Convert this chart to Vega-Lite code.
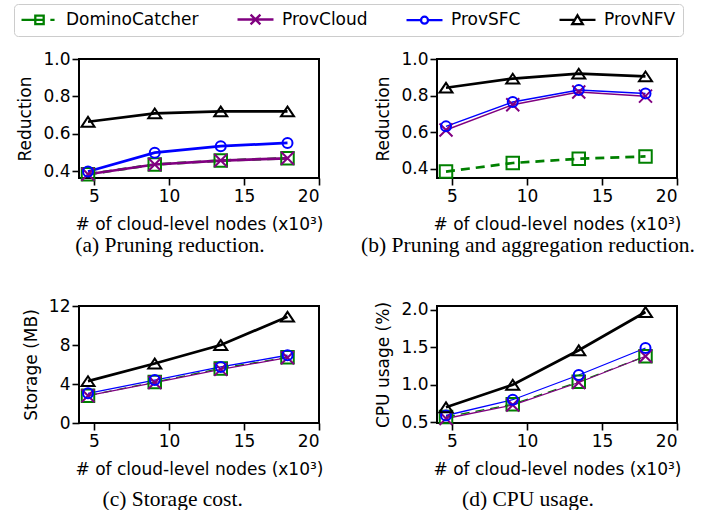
{
  "$schema": "https://vega.github.io/schema/vega-lite/v6.json",
  "padding": {"left": 13, "top": 3, "right": 5, "bottom": 5},
  "background": "white",
  "datasets": {
    "perf": [
      {"panel": "a", "series": "DominoCatcher", "nodes": 4.6, "value": 0.385},
      {"panel": "a", "series": "DominoCatcher", "nodes": 9.05, "value": 0.437},
      {"panel": "a", "series": "DominoCatcher", "nodes": 13.45, "value": 0.458},
      {"panel": "a", "series": "DominoCatcher", "nodes": 17.9, "value": 0.47},
      {"panel": "a", "series": "ProvCloud", "nodes": 4.6, "value": 0.385},
      {"panel": "a", "series": "ProvCloud", "nodes": 9.05, "value": 0.437},
      {"panel": "a", "series": "ProvCloud", "nodes": 13.45, "value": 0.458},
      {"panel": "a", "series": "ProvCloud", "nodes": 17.9, "value": 0.47},
      {"panel": "a", "series": "ProvSFC", "nodes": 4.6, "value": 0.4},
      {"panel": "a", "series": "ProvSFC", "nodes": 9.05, "value": 0.5},
      {"panel": "a", "series": "ProvSFC", "nodes": 13.45, "value": 0.535},
      {"panel": "a", "series": "ProvSFC", "nodes": 17.9, "value": 0.552},
      {"panel": "a", "series": "ProvNFV", "nodes": 4.6, "value": 0.665},
      {"panel": "a", "series": "ProvNFV", "nodes": 9.05, "value": 0.71},
      {"panel": "a", "series": "ProvNFV", "nodes": 13.45, "value": 0.72},
      {"panel": "a", "series": "ProvNFV", "nodes": 17.9, "value": 0.72},
      {"panel": "b", "series": "DominoCatcher", "nodes": 4.6, "value": 0.385},
      {"panel": "b", "series": "DominoCatcher", "nodes": 9.05, "value": 0.432},
      {"panel": "b", "series": "DominoCatcher", "nodes": 13.45, "value": 0.455},
      {"panel": "b", "series": "DominoCatcher", "nodes": 17.9, "value": 0.468},
      {"panel": "b", "series": "ProvCloud", "nodes": 4.6, "value": 0.612},
      {"panel": "b", "series": "ProvCloud", "nodes": 9.05, "value": 0.75},
      {"panel": "b", "series": "ProvCloud", "nodes": 13.45, "value": 0.82},
      {"panel": "b", "series": "ProvCloud", "nodes": 17.9, "value": 0.797},
      {"panel": "b", "series": "ProvSFC", "nodes": 4.6, "value": 0.632},
      {"panel": "b", "series": "ProvSFC", "nodes": 9.05, "value": 0.765},
      {"panel": "b", "series": "ProvSFC", "nodes": 13.45, "value": 0.83},
      {"panel": "b", "series": "ProvSFC", "nodes": 17.9, "value": 0.812},
      {"panel": "b", "series": "ProvNFV", "nodes": 4.6, "value": 0.843},
      {"panel": "b", "series": "ProvNFV", "nodes": 9.05, "value": 0.893},
      {"panel": "b", "series": "ProvNFV", "nodes": 13.45, "value": 0.92},
      {"panel": "b", "series": "ProvNFV", "nodes": 17.9, "value": 0.905},
      {"panel": "c", "series": "DominoCatcher", "nodes": 4.6, "value": 2.8},
      {"panel": "c", "series": "DominoCatcher", "nodes": 9.05, "value": 4.2},
      {"panel": "c", "series": "DominoCatcher", "nodes": 13.45, "value": 5.6},
      {"panel": "c", "series": "DominoCatcher", "nodes": 17.9, "value": 6.75},
      {"panel": "c", "series": "ProvCloud", "nodes": 4.6, "value": 2.8},
      {"panel": "c", "series": "ProvCloud", "nodes": 9.05, "value": 4.15},
      {"panel": "c", "series": "ProvCloud", "nodes": 13.45, "value": 5.5},
      {"panel": "c", "series": "ProvCloud", "nodes": 17.9, "value": 6.7},
      {"panel": "c", "series": "ProvSFC", "nodes": 4.6, "value": 3.05},
      {"panel": "c", "series": "ProvSFC", "nodes": 9.05, "value": 4.4},
      {"panel": "c", "series": "ProvSFC", "nodes": 13.45, "value": 5.75},
      {"panel": "c", "series": "ProvSFC", "nodes": 17.9, "value": 6.95},
      {"panel": "c", "series": "ProvNFV", "nodes": 4.6, "value": 4.3},
      {"panel": "c", "series": "ProvNFV", "nodes": 9.05, "value": 6.1},
      {"panel": "c", "series": "ProvNFV", "nodes": 13.45, "value": 8.0},
      {"panel": "c", "series": "ProvNFV", "nodes": 17.9, "value": 10.9},
      {"panel": "d", "series": "DominoCatcher", "nodes": 4.6, "value": 0.57},
      {"panel": "d", "series": "DominoCatcher", "nodes": 9.05, "value": 0.74},
      {"panel": "d", "series": "DominoCatcher", "nodes": 13.45, "value": 1.04},
      {"panel": "d", "series": "DominoCatcher", "nodes": 17.9, "value": 1.38},
      {"panel": "d", "series": "ProvCloud", "nodes": 4.6, "value": 0.55},
      {"panel": "d", "series": "ProvCloud", "nodes": 9.05, "value": 0.73},
      {"panel": "d", "series": "ProvCloud", "nodes": 13.45, "value": 1.03},
      {"panel": "d", "series": "ProvCloud", "nodes": 17.9, "value": 1.38},
      {"panel": "d", "series": "ProvSFC", "nodes": 4.6, "value": 0.59},
      {"panel": "d", "series": "ProvSFC", "nodes": 9.05, "value": 0.8},
      {"panel": "d", "series": "ProvSFC", "nodes": 13.45, "value": 1.13},
      {"panel": "d", "series": "ProvSFC", "nodes": 17.9, "value": 1.49},
      {"panel": "d", "series": "ProvNFV", "nodes": 4.6, "value": 0.7},
      {"panel": "d", "series": "ProvNFV", "nodes": 9.05, "value": 1.0},
      {"panel": "d", "series": "ProvNFV", "nodes": 13.45, "value": 1.46},
      {"panel": "d", "series": "ProvNFV", "nodes": 17.9, "value": 1.97}
    ]
  },
  "columns": 2,
  "spacing": {"row": 38, "column": 36},
  "resolve": {
    "scale": {"x": "independent", "y": "independent", "color": "shared", "shape": "shared"},
    "legend": {"color": "shared", "shape": "shared"}
  },
  "concat": [
    {
      "width": 240, "height": 119,
      "data": {"name": "perf"},
      "transform": [{"filter": "datum.panel === 'a'"}],
      "title": {"text": "(a) Pruning reduction.", "orient": "bottom", "anchor": "middle", "frame": "bounds", "offset": 3},
      "encoding": {
        "x": {"field": "nodes", "type": "quantitative", "scale": {"domain": [4, 20], "nice": false, "zero": false}, "axis": {"values": [5, 10, 15, 20], "title": "# of cloud-level nodes (x10³)"}},
        "y": {"field": "value", "type": "quantitative", "scale": {"domain": [0.365, 1.0], "nice": false, "zero": false}, "axis": {"values": [0.4, 0.6, 0.8, 1.0], "format": ".1f", "title": "Reduction"}},
        "color": {"field": "series", "type": "nominal", "scale": {"domain": ["DominoCatcher", "ProvCloud", "ProvSFC", "ProvNFV"], "range": ["#008000", "#800080", "#0000ff", "#000000"]}, "legend": {"orient": "none", "legendX": -65, "legendY": -55, "title": null}}
      },
      "layer": [
        {"transform": [{"filter": "datum.series === 'DominoCatcher'"}], "mark": {"type": "line", "strokeDash": [9, 6], "strokeWidth": 2.7}},
        {"transform": [{"filter": "datum.series === 'ProvCloud' || datum.series === 'ProvSFC'"}], "mark": {"type": "line", "strokeWidth": 2.7}},
        {"transform": [{"filter": "datum.series === 'ProvNFV'"}], "mark": {"type": "line", "strokeWidth": 2.7}},
        {"transform": [{"filter": "datum.series === 'DominoCatcher'"}], "mark": {"type": "point", "shape": "square", "size": 156, "filled": false, "strokeWidth": 2, "opacity": 1}},
        {"transform": [{"filter": "datum.series === 'ProvCloud'"}], "mark": {"type": "point", "shape": "M-1,-1L1,1M-1,1L1,-1", "size": 169, "filled": false, "strokeWidth": 2, "opacity": 1}},
        {"transform": [{"filter": "datum.series === 'ProvSFC'"}], "mark": {"type": "point", "shape": "circle", "size": 100, "filled": false, "strokeWidth": 2, "opacity": 1}},
        {"transform": [{"filter": "datum.series === 'ProvNFV'"}], "mark": {"type": "point", "shape": "M0,-0.75L1,0.75L-1,0.75Z", "size": 169, "filled": false, "strokeWidth": 2, "opacity": 1}},
        {"mark": {"type": "point", "size": 0, "filled": false, "strokeWidth": 2.3, "opacity": 1}, "encoding": {
          "shape": {"field": "series", "type": "nominal", "scale": {"domain": ["DominoCatcher", "ProvCloud", "ProvSFC", "ProvNFV"], "range": ["M-2.57,0H-0.6M-0.6,-0.6H0.6V0.6H-0.6ZM-0.6,0H0.6M1.55,0H2.15", "M-2.57,0H2.57M-0.7,-0.7L0.7,0.7M-0.7,0.7L0.7,-0.7", "M-2.57,0H-0.5M0.5,0H2.57M-0.5,0A0.5,0.5,0,1,0,0.5,0A0.5,0.5,0,1,0,-0.5,0", "M-2.57,0H-0.36M0.36,0H2.57M0,-0.65L0.75,0.6L-0.75,0.6Z"]}, "legend": {"orient": "none", "legendX": -65, "legendY": -55, "title": null}}
        }}
      ]
    },
    {
      "width": 240, "height": 119,
      "data": {"name": "perf"},
      "transform": [{"filter": "datum.panel === 'b'"}],
      "title": {"text": "(b) Pruning and aggregation reduction.", "orient": "bottom", "anchor": "middle", "frame": "bounds", "offset": 3},
      "encoding": {
        "x": {"field": "nodes", "type": "quantitative", "scale": {"domain": [4, 20], "nice": false, "zero": false}, "axis": {"values": [5, 10, 15, 20], "title": "# of cloud-level nodes (x10³)"}},
        "y": {"field": "value", "type": "quantitative", "scale": {"domain": [0.35, 1.0], "nice": false, "zero": false}, "axis": {"values": [0.4, 0.6, 0.8, 1.0], "format": ".1f", "title": "Reduction"}},
        "color": {"field": "series", "type": "nominal", "scale": {"domain": ["DominoCatcher", "ProvCloud", "ProvSFC", "ProvNFV"], "range": ["#008000", "#800080", "#0000ff", "#000000"]}, "legend": {"orient": "none", "legendX": -65, "legendY": -55, "title": null}}
      },
      "layer": [
        {"transform": [{"filter": "datum.series === 'DominoCatcher'"}], "mark": {"type": "line", "strokeDash": [9, 6], "strokeWidth": 2.7}},
        {"transform": [{"filter": "datum.series === 'ProvCloud' || datum.series === 'ProvSFC'"}], "mark": {"type": "line", "strokeWidth": 1.5}},
        {"transform": [{"filter": "datum.series === 'ProvNFV'"}], "mark": {"type": "line", "strokeWidth": 2.7}},
        {"transform": [{"filter": "datum.series === 'DominoCatcher'"}], "mark": {"type": "point", "shape": "square", "size": 156, "filled": false, "strokeWidth": 2, "opacity": 1}},
        {"transform": [{"filter": "datum.series === 'ProvCloud'"}], "mark": {"type": "point", "shape": "M-1,-1L1,1M-1,1L1,-1", "size": 169, "filled": false, "strokeWidth": 2, "opacity": 1}},
        {"transform": [{"filter": "datum.series === 'ProvSFC'"}], "mark": {"type": "point", "shape": "circle", "size": 100, "filled": false, "strokeWidth": 2, "opacity": 1}},
        {"transform": [{"filter": "datum.series === 'ProvNFV'"}], "mark": {"type": "point", "shape": "M0,-0.75L1,0.75L-1,0.75Z", "size": 169, "filled": false, "strokeWidth": 2, "opacity": 1}},
        {"mark": {"type": "point", "size": 0, "filled": false, "strokeWidth": 2.3, "opacity": 1}, "encoding": {
          "shape": {"field": "series", "type": "nominal", "scale": {"domain": ["DominoCatcher", "ProvCloud", "ProvSFC", "ProvNFV"], "range": ["M-2.57,0H-0.6M-0.6,-0.6H0.6V0.6H-0.6ZM-0.6,0H0.6M1.55,0H2.15", "M-2.57,0H2.57M-0.7,-0.7L0.7,0.7M-0.7,0.7L0.7,-0.7", "M-2.57,0H-0.5M0.5,0H2.57M-0.5,0A0.5,0.5,0,1,0,0.5,0A0.5,0.5,0,1,0,-0.5,0", "M-2.57,0H-0.36M0.36,0H2.57M0,-0.65L0.75,0.6L-0.75,0.6Z"]}, "legend": {"orient": "none", "legendX": -65, "legendY": -55, "title": null}}
        }}
      ]
    },
    {
      "width": 240, "height": 117,
      "data": {"name": "perf"},
      "transform": [{"filter": "datum.panel === 'c'"}],
      "title": {"text": "(c) Storage cost.", "orient": "bottom", "anchor": "middle", "frame": "bounds", "offset": 12},
      "encoding": {
        "x": {"field": "nodes", "type": "quantitative", "scale": {"domain": [4, 20], "nice": false, "zero": false}, "axis": {"values": [5, 10, 15, 20], "title": "# of cloud-level nodes (x10³)"}},
        "y": {"field": "value", "type": "quantitative", "scale": {"domain": [0, 12], "nice": false, "zero": false}, "axis": {"values": [0, 4, 8, 12], "title": "Storage (MB)"}},
        "color": {"field": "series", "type": "nominal", "scale": {"domain": ["DominoCatcher", "ProvCloud", "ProvSFC", "ProvNFV"], "range": ["#008000", "#800080", "#0000ff", "#000000"]}, "legend": {"orient": "none", "legendX": -65, "legendY": -55, "title": null}}
      },
      "layer": [
        {"transform": [{"filter": "datum.series === 'DominoCatcher'"}], "mark": {"type": "line", "strokeDash": [9, 6], "strokeWidth": 1.3}},
        {"transform": [{"filter": "datum.series === 'ProvCloud' || datum.series === 'ProvSFC'"}], "mark": {"type": "line", "strokeWidth": 1.3}},
        {"transform": [{"filter": "datum.series === 'ProvNFV'"}], "mark": {"type": "line", "strokeWidth": 2.7}},
        {"transform": [{"filter": "datum.series === 'DominoCatcher'"}], "mark": {"type": "point", "shape": "square", "size": 156, "filled": false, "strokeWidth": 2, "opacity": 1}},
        {"transform": [{"filter": "datum.series === 'ProvCloud'"}], "mark": {"type": "point", "shape": "M-1,-1L1,1M-1,1L1,-1", "size": 169, "filled": false, "strokeWidth": 2, "opacity": 1}},
        {"transform": [{"filter": "datum.series === 'ProvSFC'"}], "mark": {"type": "point", "shape": "circle", "size": 100, "filled": false, "strokeWidth": 2, "opacity": 1}},
        {"transform": [{"filter": "datum.series === 'ProvNFV'"}], "mark": {"type": "point", "shape": "M0,-0.75L1,0.75L-1,0.75Z", "size": 169, "filled": false, "strokeWidth": 2, "opacity": 1}},
        {"mark": {"type": "point", "size": 0, "filled": false, "strokeWidth": 2.3, "opacity": 1}, "encoding": {
          "shape": {"field": "series", "type": "nominal", "scale": {"domain": ["DominoCatcher", "ProvCloud", "ProvSFC", "ProvNFV"], "range": ["M-2.57,0H-0.6M-0.6,-0.6H0.6V0.6H-0.6ZM-0.6,0H0.6M1.55,0H2.15", "M-2.57,0H2.57M-0.7,-0.7L0.7,0.7M-0.7,0.7L0.7,-0.7", "M-2.57,0H-0.5M0.5,0H2.57M-0.5,0A0.5,0.5,0,1,0,0.5,0A0.5,0.5,0,1,0,-0.5,0", "M-2.57,0H-0.36M0.36,0H2.57M0,-0.65L0.75,0.6L-0.75,0.6Z"]}, "legend": {"orient": "none", "legendX": -65, "legendY": -55, "title": null}}
        }}
      ]
    },
    {
      "width": 240, "height": 117,
      "data": {"name": "perf"},
      "transform": [{"filter": "datum.panel === 'd'"}],
      "title": {"text": "(d) CPU usage.", "orient": "bottom", "anchor": "middle", "frame": "bounds", "offset": 12},
      "encoding": {
        "x": {"field": "nodes", "type": "quantitative", "scale": {"domain": [4, 20], "nice": false, "zero": false}, "axis": {"values": [5, 10, 15, 20], "title": "# of cloud-level nodes (x10³)"}},
        "y": {"field": "value", "type": "quantitative", "scale": {"domain": [0.49, 2.05], "nice": false, "zero": false}, "axis": {"values": [0.5, 1.0, 1.5, 2.0], "format": ".1f", "title": "CPU usage (%)"}},
        "color": {"field": "series", "type": "nominal", "scale": {"domain": ["DominoCatcher", "ProvCloud", "ProvSFC", "ProvNFV"], "range": ["#008000", "#800080", "#0000ff", "#000000"]}, "legend": {"orient": "none", "legendX": -65, "legendY": -55, "title": null}}
      },
      "layer": [
        {"transform": [{"filter": "datum.series === 'DominoCatcher'"}], "mark": {"type": "line", "strokeDash": [9, 6], "strokeWidth": 1.3}},
        {"transform": [{"filter": "datum.series === 'ProvCloud' || datum.series === 'ProvSFC'"}], "mark": {"type": "line", "strokeWidth": 1.3}},
        {"transform": [{"filter": "datum.series === 'ProvNFV'"}], "mark": {"type": "line", "strokeWidth": 2.7}},
        {"transform": [{"filter": "datum.series === 'DominoCatcher'"}], "mark": {"type": "point", "shape": "square", "size": 156, "filled": false, "strokeWidth": 2, "opacity": 1}},
        {"transform": [{"filter": "datum.series === 'ProvCloud'"}], "mark": {"type": "point", "shape": "M-1,-1L1,1M-1,1L1,-1", "size": 169, "filled": false, "strokeWidth": 2, "opacity": 1}},
        {"transform": [{"filter": "datum.series === 'ProvSFC'"}], "mark": {"type": "point", "shape": "circle", "size": 100, "filled": false, "strokeWidth": 2, "opacity": 1}},
        {"transform": [{"filter": "datum.series === 'ProvNFV'"}], "mark": {"type": "point", "shape": "M0,-0.75L1,0.75L-1,0.75Z", "size": 169, "filled": false, "strokeWidth": 2, "opacity": 1}},
        {"mark": {"type": "point", "size": 0, "filled": false, "strokeWidth": 2.3, "opacity": 1}, "encoding": {
          "shape": {"field": "series", "type": "nominal", "scale": {"domain": ["DominoCatcher", "ProvCloud", "ProvSFC", "ProvNFV"], "range": ["M-2.57,0H-0.6M-0.6,-0.6H0.6V0.6H-0.6ZM-0.6,0H0.6M1.55,0H2.15", "M-2.57,0H2.57M-0.7,-0.7L0.7,0.7M-0.7,0.7L0.7,-0.7", "M-2.57,0H-0.5M0.5,0H2.57M-0.5,0A0.5,0.5,0,1,0,0.5,0A0.5,0.5,0,1,0,-0.5,0", "M-2.57,0H-0.36M0.36,0H2.57M0,-0.65L0.75,0.6L-0.75,0.6Z"]}, "legend": {"orient": "none", "legendX": -65, "legendY": -55, "title": null}}
        }}
      ]
    }
  ],
  "config": {
    "font": "DejaVu Sans",
    "view": {"stroke": "black", "strokeWidth": 2},
    "axis": {"grid": false, "domain": false, "labelFont": "DejaVu Sans", "labelFontSize": 17, "labelColor": "black", "labelPadding": 3, "titleFont": "DejaVu Sans", "titleFontSize": 17, "titleFontWeight": "normal", "titleColor": "black", "tickColor": "black", "tickSize": 7, "tickWidth": 1.6},
    "axisX": {"titlePadding": 12},
    "axisY": {"titlePadding": 8, "labelPadding": 2},
    "legend": {"direction": "horizontal", "columns": 4, "labelFont": "DejaVu Sans", "labelFontSize": 17, "labelColor": "black", "symbolSize": 196, "symbolStrokeWidth": 2.3, "symbolOffset": 10, "labelOffset": 18, "columnPadding": 33, "padding": 7, "strokeColor": "#cccccc", "cornerRadius": 4, "fillColor": "white", "symbolOpacity": 1, "symbolFillColor": "transparent"},
    "title": {"font": "Liberation Serif", "fontSize": 21.5, "fontWeight": "normal", "color": "black"}
  }
}
